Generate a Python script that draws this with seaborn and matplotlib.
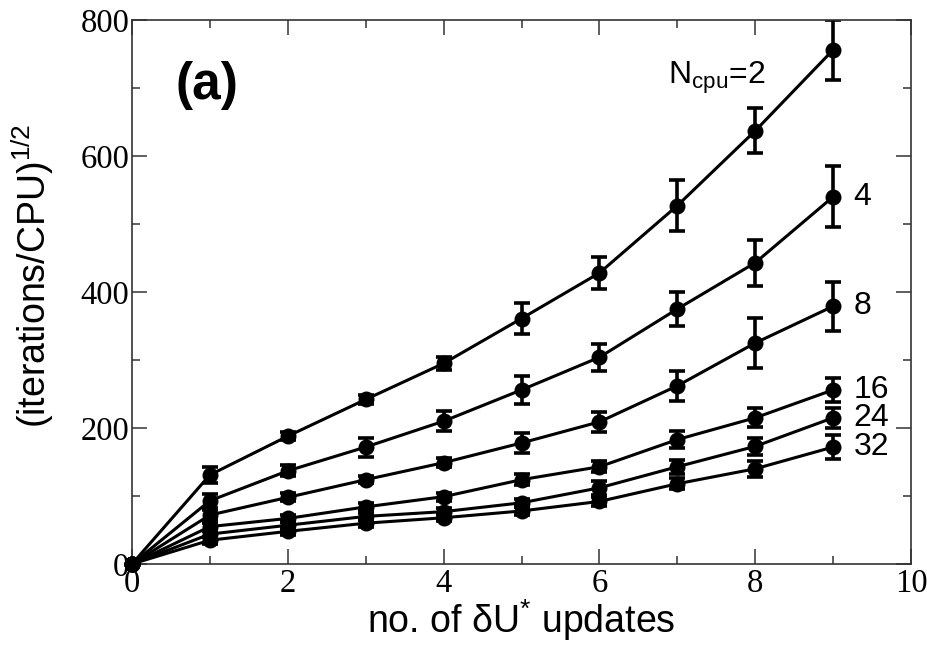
import numpy as np
import pandas as pd
import matplotlib
matplotlib.use("Agg")
import matplotlib.pyplot as plt
from matplotlib.ticker import MultipleLocator
import seaborn as sns

# ---- data ----
updates = [0, 1, 2, 3, 4, 5, 6, 7, 8, 9]
ncpu_values = [2, 4, 8, 16, 24, 32]
y_n2 = [0, 131, 188, 242, 295, 361, 428, 527, 637, 756]
y_n4 = [0, 93, 137, 172, 210, 256, 304, 375, 443, 540]
y_n8 = [0, 72, 98, 124, 149, 178, 209, 262, 325, 379]
y_n16 = [0, 55, 67, 84, 99, 124, 143, 183, 215, 256]
y_n24 = [0, 44, 57, 70, 77, 90, 112, 143, 173, 215]
y_n32 = [0, 35, 48, 60, 68, 78, 92, 118, 140, 172]
err_n2 = [0, 12, 6, 6, 10, 23, 24, 37, 33, 44]
err_n4 = [0, 10, 8, 14, 15, 20, 20, 25, 34, 45]
err_n8 = [0, 8, 6, 5, 7, 15, 15, 22, 37, 36]
err_n16 = [0, 6, 5, 5, 6, 8, 8, 13, 14, 18]
err_n24 = [0, 5, 5, 5, 5, 6, 10, 10, 13, 15]
err_n32 = [0, 5, 5, 5, 5, 6, 6, 8, 12, 18]
end_labels = ["N$_{\\mathrm{cpu}}$=2", "4", "8", "16", "24", "32"]
x_ticks = [0, 2, 4, 6, 8, 10]
y_ticks = [0, 200, 400, 600, 800]

series_y = [y_n2, y_n4, y_n8, y_n16, y_n24, y_n32]
series_e = [err_n2, err_n4, err_n8, err_n16, err_n24, err_n32]

rows = []
for n, ys, es in zip(ncpu_values, series_y, series_e):
    for x, y, e in zip(updates, ys, es):
        rows.append({"x": x, "y": y, "err": e, "N": str(n)})
df = pd.DataFrame(rows)

sns.set_theme(style="ticks")
plt.rcParams["font.family"] = ["Liberation Sans", "DejaVu Sans"]
plt.rcParams["mathtext.fontset"] = "custom"
plt.rcParams["mathtext.rm"] = "Liberation Sans"
plt.rcParams["mathtext.it"] = "Liberation Sans:italic"
plt.rcParams["mathtext.bf"] = "Liberation Sans:bold"
plt.rcParams["text.color"] = "black"
plt.rcParams["axes.labelcolor"] = "black"
plt.rcParams["xtick.labelcolor"] = "black"
plt.rcParams["ytick.labelcolor"] = "black"

fig = plt.figure(figsize=(9.28, 6.55), dpi=100)
ax = fig.add_axes([132 / 928, 1 - 564 / 655, (911 - 132) / 928, (564 - 20) / 655])

palette = {str(n): "black" for n in ncpu_values}
sns.lineplot(data=df, x="x", y="y", hue="N", palette=palette, marker="o",
             markersize=11.5, markeredgewidth=0, linewidth=2.2, legend=False,
             ax=ax, zorder=3)
for ln in ax.lines:
    ln.set_clip_on(False)
for n in ncpu_values:
    sub = df[df["N"] == str(n)]
    ax.errorbar(sub["x"], sub["y"], yerr=sub["err"], fmt="none", ecolor="black",
                elinewidth=2.6, capsize=5.5, capthick=2.6, zorder=2)

ax.set_xlim(0, 10)
ax.set_ylim(0, 800)
ax.set_xticks(x_ticks)
ax.set_yticks(y_ticks)
ax.xaxis.set_minor_locator(MultipleLocator(1))
ax.yaxis.set_minor_locator(MultipleLocator(100))
ax.tick_params(which="both", direction="in", top=True, right=True, color="#333333",
               width=1.1)
ax.tick_params(which="major", length=11)
ax.tick_params(which="minor", length=5.5)
for lab in ax.get_xticklabels() + ax.get_yticklabels():
    lab.set_fontfamily("Liberation Serif")
    lab.set_fontsize(23.5)
    lab.set_color("black")
ax.tick_params(axis="x", pad=3)
ax.tick_params(axis="y", pad=2)
for sp in ax.spines.values():
    sp.set_linewidth(1.2)
    sp.set_color("#333333")

ax.set_xlabel("no. of δU$^{*}$ updates", fontsize=27, labelpad=-1)
ax.set_ylabel("(iterations/CPU)$^{1/2}$", fontsize=27)
ax.yaxis.set_label_coords(-0.098, 0.53)

# annotations
last_x = updates[-1]
ax.text(6.88, 706, end_labels[0], fontsize=23, ha="left", va="baseline")
for lbl, ys in zip(end_labels[1:], series_y[1:]):
    ax.text(last_x + 0.26, ys[-1], lbl, fontsize=23, ha="left", va="center")
ax.text(0.56, 703, "(a)", fontsize=37, fontweight="bold", ha="left", va="center")

fig.savefig("out.png", dpi=100)
